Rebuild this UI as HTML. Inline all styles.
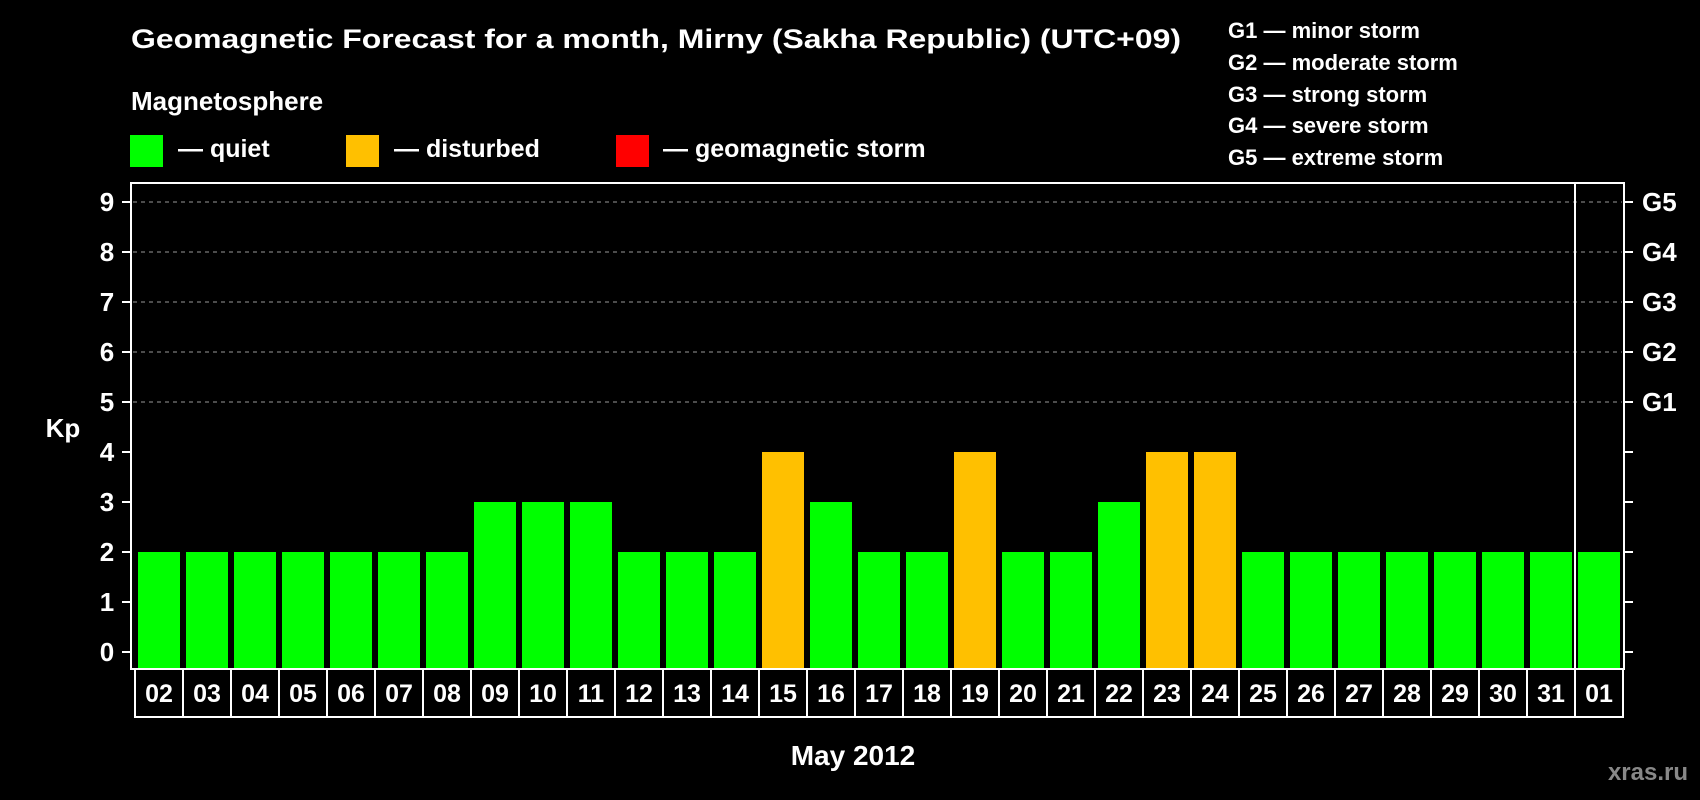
<!DOCTYPE html>
<html><head><meta charset="utf-8"><style>
html,body{margin:0;padding:0;background:#000;}
svg{display:block;font-family:"Liberation Sans",Arial,sans-serif;font-weight:bold;}
</style></head><body>
<svg id="chart" width="1700" height="800" viewBox="0 0 1700 800">
<text x="131" y="48" fill="#fff" font-size="27" textLength="1050" lengthAdjust="spacingAndGlyphs">Geomagnetic Forecast for a month, Mirny (Sakha Republic) (UTC+09)</text>
<text x="131" y="110" fill="#fff" font-size="26">Magnetosphere</text>
<g>
<rect x="130" y="135" width="33" height="32" fill="#00ff00"/>
<text x="178" y="157" fill="#fff" font-size="25">— quiet</text></g>
<g>
<rect x="346" y="135" width="33" height="32" fill="#ffc000"/>
<text x="394" y="157" fill="#fff" font-size="25">— disturbed</text></g>
<g>
<rect x="616" y="135" width="33" height="32" fill="#ff0000"/>
<text x="663" y="157" fill="#fff" font-size="25">— geomagnetic storm</text></g>
<g font-size="22" fill="#fff">
<text x="1228" y="38">G1 — minor storm</text>
<text x="1228" y="70">G2 — moderate storm</text>
<text x="1228" y="102">G3 — strong storm</text>
<text x="1228" y="133">G4 — severe storm</text>
<text x="1228" y="165">G5 — extreme storm</text>
</g>
<g id="plot"></g>
<text x="63" y="437" fill="#fff" font-size="26" text-anchor="middle">Kp</text>
<text x="853" y="765" fill="#fff" font-size="28" text-anchor="middle">May 2012</text>
<text x="1688" y="780" fill="#888" font-size="24" text-anchor="end">xras.ru</text>
</svg>
<script>
const categories=["02","03","04","05","06","07","08","09","10","11","12","13","14","15","16","17","18","19","20","21","22","23","24","25","26","27","28","29","30","31","01"];
const kpValues=[2,2,2,2,2,2,2,3,3,3,2,2,2,4,3,2,2,4,2,2,3,4,4,2,2,2,2,2,2,2,2];
const yTicks=[0,1,2,3,4,5,6,7,8,9];
const gLabels=["G1","G2","G3","G4","G5"];
const NS="http://www.w3.org/2000/svg";
const g=document.getElementById('plot');
const L=131,R=1624,T=183,B=669,step=48,x0=135;
const y=v=>652-v*50;
const xs=i=>x0+i*step;
function mk(t,a){const e=document.createElementNS(NS,t);for(const k in a)e.setAttribute(k,a[k]);g.appendChild(e);return e;}
// grid
yTicks.forEach(v=>{
 if(v>=5){const l=mk('line',{x1:L+2,x2:R-2,y1:y(v),y2:y(v),stroke:'#999','stroke-width':1,'stroke-dasharray':'4,4'});
 
 }
 const t1=mk('line',{x1:L-9,x2:L,y1:y(v),y2:y(v),stroke:'#fff','stroke-width':2});
 
 
 const t2=mk('line',{x1:R,x2:R+9,y1:y(v),y2:y(v),stroke:'#fff','stroke-width':2});
 
 
 const lb=mk('text',{x:107,y:y(v)+9,fill:'#fff','font-size':26,'text-anchor':'middle'});
 lb.textContent=v;
 
 
});
gLabels.forEach((s,i)=>{
 const t=mk('text',{x:1642,y:y(5+i)+9,fill:'#fff','font-size':26});
 t.textContent=s;
 
 
});
// bars
kpValues.forEach((v,i)=>{
 const col=v>=5?'#ff0000':(v>=4?'#ffc000':'#00ff00');
 const r=mk('rect',{x:xs(i)+3,y:y(v),width:42,height:B-y(v),fill:col});
 
 
});
// frame
const f=mk('rect',{x:L,y:T,width:R-L,height:B-T,fill:'none',stroke:'#fff','stroke-width':2});


const dv=mk('line',{x1:xs(30),x2:xs(30),y1:T,y2:B,stroke:'#fff','stroke-width':2});


// category boxes
categories.forEach((c,i)=>{
 const b=mk('rect',{x:xs(i),y:B,width:step,height:48,fill:'none',stroke:'#fff','stroke-width':2});
 
 
 const t=mk('text',{x:xs(i)+step/2,y:702,fill:'#fff','font-size':25,'text-anchor':'middle'});
 t.textContent=c;
 
 
});
</script>
</body></html>
